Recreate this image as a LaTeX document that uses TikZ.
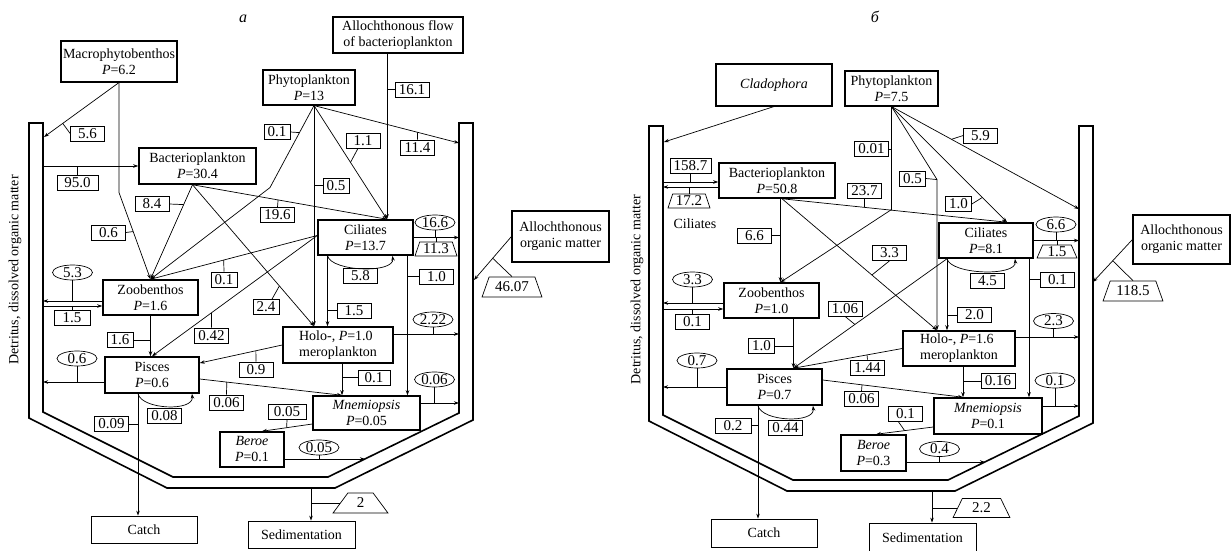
\documentclass[tikz,border=0pt]{standalone}
\usepackage{fontspec}
\setmainfont{Liberation Serif}
\usetikzlibrary{arrows.meta, shapes.geometric}
\newcommand{\taxonfont}{\fontsize{14}{16}\selectfont}
\newcommand{\valuefont}{\fontsize{15}{16}\selectfont}

\begin{document}
\begin{tikzpicture}[x=1pt, y=-1pt,
    every node/.style={font=\taxonfont},
    taxon/.style={draw, line width=1.5pt, align=center, inner sep=1pt},
    source/.style={draw, line width=1.1pt, align=center, inner sep=1pt},
    sink/.style={draw, line width=0.8pt, inner sep=1pt},
    value/.style={draw, line width=0.7pt, font=\valuefont, inner xsep=3pt, inner ysep=0pt, minimum width=34, minimum height=15},
    narrow/.style={minimum width=26},
    oval/.style={draw, line width=0.7pt, ellipse, font=\valuefont, inner sep=0pt, minimum width=40, minimum height=15},
    trap/.style={draw, line width=0.7pt, trapezium, trapezium stretches=true, trapezium left angle=#1, trapezium right angle=#1, font=\valuefont, inner sep=0pt},
    trap/.default=70,
    flow/.style={line width=0.7pt, -{Stealth[length=5pt, width=3.5pt]}},
    tick/.style={line width=0.7pt},
    wall/.style={line width=1.6pt, line join=miter}]
\useasboundingbox (0,0) rectangle (1232,551);

% ================= panel a =================
\node (tita) at (243,19) {\fontsize{16}{16}\selectfont\itshape а};
% vessel
\draw[wall] (29,123) -- (29,418) -- (167,488) -- (335,488) -- (473,420) -- (473,123)
  -- (459,123) -- (459,413) -- (328,477) -- (173,477) -- (43,412) -- (43,123) -- cycle;
\node[rotate=90] (deta) at (15,270) {Detritus, dissolved organic matter};
\coordinate (wla) at (43,0);
\coordinate (wra) at (459,0);
\coordinate (wmac) at (44,137);
\coordinate (wphy) at (459,143);
\coordinate (wber) at (365,459);
\coordinate (waom) at (474,280);
\coordinate (wsed) at (311,488);

% compartments
\node[source, minimum width=116, minimum height=41] (macro) at (119,61.5) {Macrophytobenthos\\\textit{P}=6.2};
\node[source, minimum width=92, minimum height=35] (phyto) at (309,87.5) {Phytoplankton\\\textit{P}=13};
\node[source, minimum width=130, minimum height=36] (allo) at (398,35) {Allochthonous flow\\of bacterioplankton};
\node[taxon, minimum width=117, minimum height=36] (bact) at (197.5,166) {Bacterioplankton\\\textit{P}=30.4};
\node[taxon, minimum width=95, minimum height=35] (cil) at (365.5,237.5) {Ciliates\\\textit{P}=13.7};
\node[taxon, minimum width=95, minimum height=35] (zoob) at (150.5,297.5) {Zoobenthos\\\textit{P}=1.6};
\node[taxon, minimum width=110, minimum height=36, align=left] (holo) at (338,345) {Holo-, \textit{P}=1.0\\meroplankton};
\node[taxon, minimum width=94, minimum height=36] (pisc) at (152,375) {Pisces\\\textit{P}=0.6};
\node[taxon, minimum width=107, minimum height=34] (mnem) at (366.5,413) {\textit{Mnemiopsis}\\\textit{P}=0.05};
\node[taxon, minimum width=64, minimum height=35] (beroe) at (252,449.5) {\textit{Beroe}\\\textit{P}=0.1};
\node[source, minimum width=97, minimum height=51] (aom) at (560.5,236.5) {Allochthonous\\organic matter};
\node[sink, minimum width=106, minimum height=27] (catch) at (144,529.5) {Catch};
\node[sink, minimum width=107, minimum height=27] (sedi) at (301.5,534.5) {Sedimentation};

% attach points
\coordinate (pf) at ([xshift=5pt]phyto.south);
\coordinate (bo) at ([xshift=-5pt]bact.south);
\coordinate (af) at ([xshift=-11pt]allo.south);
\coordinate (cn) at (af |- cil.north);
\coordinate (hn) at (pf |- holo.north);
\coordinate (cw) at ([yshift=2pt]cil.west);
\coordinate (cb1) at ([xshift=-38pt]cil.south);
\coordinate (cb2) at ([xshift=42pt]cil.south);
\coordinate (hb) at ([xshift=4pt]holo.south);
\coordinate (mn) at (hb |- mnem.north);
\coordinate (pb) at ([xshift=-14pt]pisc.south);
\coordinate (zw1) at ([yshift=-3.5pt]zoob.west);
\coordinate (zw2) at ([yshift=-8.5pt]zoob.west);
\coordinate (pw) at ([yshift=-7pt]pisc.west);
\coordinate (hr) at ([yshift=11pt]holo.east);
\coordinate (mr) at ([yshift=10pt]mnem.east);
\coordinate (ml) at ([yshift=-11pt]mnem.west);
\coordinate (br) at ([yshift=-9.5pt]beroe.east);

% flows
\draw[flow] (macro.south) -- (wmac) coordinate[pos=0.75] (m1);
\draw[flow] (bact.west -| wla) -- (bact.west);
\draw[flow] (macro.south) -- ++(0,110) -- (zoob.north) coordinate[pos=0.45] (m2);
\draw[flow] (bo) -- (zoob.north) coordinate[pos=0.21] (b1);
\draw[flow] (bo) -- (cn) coordinate[pos=0.44] (b2);
\draw[flow] (bo) -- (hn) coordinate[pos=0.715] (b3);
\draw[flow] (pf) -- ++(-44,82) coordinate[pos=0.33] (p1) -- (zoob.north);
\draw[flow] (pf) -- (hn);
\draw[flow] (pf) -- (cn) coordinate[pos=0.5] (p2);
\draw[flow] (pf) -- (wphy) coordinate[pos=0.714] (p3);
\draw[flow] (af) -- (cn);
\draw[flow] (cw) -- (zoob.north) coordinate[pos=0.561] (c1);
\draw[flow] (cw) -- (pisc.north) coordinate[pos=0.64] (c2);
\draw[flow] (cb1) -- (cb1 |- holo.north);
\draw[flow] (cb1) .. controls +(4,16) and +(2,18) .. ([xshift=27pt]cil.south);
\draw[flow] (cb2) -- (cb2 |- mnem.north);
\draw[flow] (cil.east) -- (cil.east -| wra);
\draw[flow] (zw1) -- (zw1 -| wla);
\draw[flow] (zw2 -| wla) -- (zw2);
\draw[flow] (zoob.south) -- (zoob.south |- pisc.north);
\draw[flow] (pw) -- (pw -| wla);
\draw[flow] (pb) -- (pb |- catch.north);
\draw[flow] (pb) .. controls +(4,16) and +(2,18) .. ([xshift=40pt]pisc.south);
\draw[flow] (holo.west) -- ([yshift=12pt]pisc.east) coordinate[pos=0.32] (h1);
\draw[flow] ([yshift=-4pt]pisc.east) -- (mn) coordinate[pos=0.19] (h2);
\draw[flow] (hb) -- (mn);
\draw[flow] (hr) -- (hr -| wra);
\draw[flow] (mr) -- (mr -| wra);
\draw[flow] (ml) -- ([xshift=10pt]beroe.north) coordinate[pos=0.51] (r1);
\draw[flow] (br) -- (wber);
\draw[flow] (aom.west) -- (waom) coordinate[pos=0.5] (a1);
\draw[flow] (wsed) -- (wsed |- sedi.north);

% values
\node[value] (v56) at (87.5,133.5) {5.6};
\draw[tick] (m1) -- (v56.west);
\node[value, minimum width=41] (v950) at (77.5,182.5) {95.0};
\draw[tick] (v950.north) -- (v950.north |- bact.west);
\node[value] (v06a) at (108.5,232.5) {0.6};
\draw[tick] (v06a.east) -- (m2);
\node[value] (v84) at (152,204) {8.4};
\draw[tick] (v84.east) -- (b1);
\node[value] (v196) at (277.5,215) {19.6};
\draw[tick] (v196.north) -- (b2);
\node[value, narrow] (v24) at (266,307) {2.4};
\draw[tick] ([xshift=6pt]v24.north) -- (b3);
\node[value, narrow] (v01p) at (277,132) {0.1};
\draw[tick] (v01p.east) -- (p1);
\node[value, narrow] (v05) at (336,185.5) {0.5};
\draw[tick] (v05.west) -- (v05.west -| pf);
\node[value] (v11) at (363,140.5) {1.1};
\draw[tick] (p2) -- ([xshift=-5pt]v11.south);
\node[value] (v114) at (417.5,147.5) {11.4};
\draw[tick] (v114.north) -- (p3);
\node[value] (v161) at (412,89.5) {16.1};
\draw[tick] (v161.west) -- (v161.west -| af);
\node[value, narrow] (v01c) at (224,279.5) {0.1};
\draw[tick] (v01c.north) -- (c1);
\node[value] (v042) at (211.5,335.5) {0.42};
\draw[tick] (v042.north) -- (c2);
\node[value] (v15c) at (354,310.5) {1.5};
\draw[tick] (v15c.west) -- (v15c.west -| cb1);
\node[value] (v58) at (360.5,275.5) {5.8};
\node[value] (v10c) at (436.5,276.5) {1.0};
\draw[tick] (v10c.west) -- (v10c.west -| cb2);
\node[oval] (o166) at (435,222.5) {16.6};
\draw[tick] (o166.south) -- (o166.south |- cil.east);
\node[trap, minimum width=42, minimum height=14] (t113) at (436,249) {11.3};
\draw[tick] (t113.north) -- (t113.north |- cil.east);
\node[oval] (o53) at (72.5,272.5) {5.3};
\draw[tick] (o53.south) -- (o53.south |- zw1);
\node[value, minimum width=36] (v15z) at (72,318) {1.5};
\draw[tick] (v15z.north) -- (v15z.north |- zw2);
\node[value, narrow] (v16) at (120,340) {1.6};
\draw[tick] (v16.east) -- (v16.east -| zoob.south);
\node[oval] (o06) at (77,358.5) {0.6};
\draw[tick] (o06.south) -- (o06.south |- pw);
\node[value] (v009) at (111.5,424) {0.09};
\draw[tick] (v009.east) -- (v009.east -| pb);
\node[value] (v008) at (164.5,415.5) {0.08};
\node[value] (v09) at (256,369.5) {0.9};
\draw[tick] (v09.north) -- (h1);
\node[value] (v006) at (226.5,402.5) {0.06};
\draw[tick] (v006.north) -- (h2);
\node[value, minimum width=32] (v01h) at (374,377.5) {0.1};
\draw[tick] (v01h.west) -- (v01h.west -| hb);
\node[oval] (o222) at (433,319.5) {2.22};
\draw[tick] (o222.south) -- (o222.south |- hr);
\node[oval] (o006) at (434.5,379.5) {0.06};
\draw[tick] (o006.south) -- (o006.south |- mr);
\node[value, minimum width=38] (v005) at (287,412) {0.05};
\draw[tick] (v005.south) -- (r1);
\node[oval] (o005) at (319,447.5) {0.05};
\draw[tick] (o005.south) -- (o005.south |- br);
\node[trap=63, minimum width=60, minimum height=20] (t4607) at (512,287) {46.07};
\draw[tick] (a1) -- (t4607.north);
\node[trap=66, minimum width=55, minimum height=20] (t2) at (360.5,503) {2};
\draw[tick] (t2.west) -- (t2.west -| wsed);

% ================= panel b =================
\node (titb) at (875,17) {\fontsize{16}{16}\selectfont\itshape б};
% vessel
\draw[wall] (649,126) -- (649,421) -- (787,491) -- (955,491) -- (1093,423) -- (1093,126)
  -- (1079,126) -- (1079,416) -- (948,480) -- (793,480) -- (663,415) -- (663,126) -- cycle;
\node[rotate=90] (detb) at (637,289.5) {Detritus, dissolved organic matter};
\coordinate (wlb) at (663,0);
\coordinate (wrb) at (1079,0);
\coordinate (wclad) at (664,142);
\coordinate (wphyb) at (1079,209);
\coordinate (wberb) at (985,462);
\coordinate (waomb) at (1093,282);
\coordinate (wsedb) at (932,491);

% compartments
\node[source, minimum width=116, minimum height=42] (clad) at (774,85) {\textit{Cladophora}};
\node[source, minimum width=93, minimum height=35] (phytob) at (891.5,88.5) {Phytoplankton\\\textit{P}=7.5};
\node[taxon, minimum width=116, minimum height=35] (bactb) at (777,180.5) {Bacterioplankton\\\textit{P}=50.8};
\node[taxon, minimum width=94, minimum height=35] (cilb) at (986,240.5) {Ciliates\\\textit{P}=8.1};
\node[taxon, minimum width=95, minimum height=35] (zoobb) at (771.5,300.5) {Zoobenthos\\\textit{P}=1.0};
\node[taxon, minimum width=112, minimum height=35, align=left] (holob) at (959,348.5) {Holo-, \textit{P}=1.6\\meroplankton};
\node[taxon, minimum width=95, minimum height=36] (piscb) at (774.5,387) {Pisces\\\textit{P}=0.7};
\node[taxon, minimum width=108, minimum height=36] (mnemb) at (988,416) {\textit{Mnemiopsis}\\\textit{P}=0.1};
\node[taxon, minimum width=65, minimum height=36] (berb) at (873.5,453) {\textit{Beroe}\\\textit{P}=0.3};
\node[source, minimum width=97, minimum height=49] (aomb) at (1181.5,239.5) {Allochthonous\\organic matter};
\node[sink, minimum width=106, minimum height=28] (catchb) at (764,533) {Catch};
\node[sink, minimum width=107, minimum height=29] (sedib) at (922.5,537.5) {Sedimentation};
\node (cilt) at (695,224) {Ciliates};

% attach points
\coordinate (bob) at ([xshift=5pt]bactb.south);
\coordinate (bw1) at ([yshift=-1.5pt]bactb.west);
\coordinate (bw2) at ([yshift=-6.5pt]bactb.west);
\coordinate (zn) at ([xshift=9pt]zoobb.north);
\coordinate (pk) at ([yshift=-103pt]phytob.south);
\coordinate (pk2) at ([shift={(45.5,73)}]phytob.south);
\coordinate (hnb) at (pk2 |- holob.north);
\coordinate (cnb) at ([xshift=21pt]cilb.north);
\coordinate (cbl) at ([xshift=-39pt]cilb.south);
\coordinate (cbr) at ([xshift=43pt]cilb.south);
\coordinate (pnb) at ([xshift=19pt]piscb.north);
\coordinate (pbb) at ([xshift=-16.5pt]piscb.south);
\coordinate (prb) at ([yshift=7pt]piscb.east);
\coordinate (hbb) at ([xshift=4pt]holob.south);
\coordinate (mnb) at (hbb |- mnemb.north);
\coordinate (hrb) at ([yshift=11.5pt]holob.east);
\coordinate (mrb) at ([yshift=10pt]mnemb.east);
\coordinate (mlb) at ([yshift=-11pt]mnemb.west);
\coordinate (brb) at ([yshift=-9pt]berb.east);
\coordinate (zw1b) at ([yshift=-2.5pt]zoobb.west);
\coordinate (zw2b) at ([yshift=-8.5pt]zoobb.west);

% flows
\draw[flow] (clad.south) -- (wclad);
\draw[flow] (bw1 -| wlb) -- (bw1);
\draw[flow] (bw2) -- (bw2 -| wlb);
\draw[flow] (phytob.south) -- (pk) -- (zn);
\draw[flow] (phytob.south) -- (pk2) -- (hnb);
\draw[flow] (phytob.south) -- (cnb) coordinate[pos=0.786] (q1);
\draw[flow] (phytob.south) -- (wphyb) coordinate[pos=0.32] (q2);
\draw[flow] (zn |- bactb.south) -- (zn);
\draw[flow] (bob) -- (cnb) coordinate[pos=0.367] (q3);
\draw[flow] (bob) -- (hnb) coordinate[pos=0.58] (q4);
\draw[flow] (cbl) -- (pnb) coordinate[pos=0.6] (q5);
\draw[flow] (cbl) -- (cbl |- holob.north);
\draw[flow] (cbl) .. controls +(4,16) and +(2,18) .. ([xshift=29pt]cilb.south);
\draw[flow] (cbr) -- (cbr |- mnemb.north);
\draw[flow] (cilb.east) -- (cilb.east -| wrb);
\draw[flow] (zw1b) -- (zw1b -| wlb);
\draw[flow] (zw2b -| wlb) -- (zw2b);
\draw[flow] (pnb |- zoobb.south) -- (pnb);
\draw[flow] (piscb.west) -- (piscb.west -| wlb);
\draw[flow] (pbb) -- (pbb |- catchb.north);
\draw[flow] (pbb) .. controls +(4,16) and +(2,18) .. ([xshift=38.5pt]piscb.south);
\draw[flow] (holob.west) -- (pnb) coordinate[pos=0.324] (q6);
\draw[flow] (prb) -- (mnb) coordinate[pos=0.28] (q7);
\draw[flow] (hbb) -- (mnb);
\draw[flow] (hrb) -- (hrb -| wrb);
\draw[flow] (mrb) -- (mrb -| wrb);
\draw[flow] (mlb) -- ([xshift=2.5pt]berb.north) coordinate[pos=0.5] (q8);
\draw[flow] (brb) -- (wberb);
\draw[flow] (aomb.west) -- (waomb) coordinate[pos=0.5] (q9);
\draw[flow] (wsedb) -- (wsedb |- sedib.north);

% values
\node[value, minimum width=41] (v1587) at (690.5,165.5) {158.7};
\draw[tick] (v1587.south) -- (v1587.south |- bw1);
\node[trap, minimum width=42, minimum height=14] (t172) at (689,201) {17.2};
\draw[tick] (t172.north) -- (t172.north |- bw2);
\node[value] (v001) at (871.5,149) {0.01};
\draw[tick] (v001.east) -- (v001.east -| phytob.south);
\node[value, narrow] (v05b) at (912.5,178.5) {0.5};
\draw[tick] (v05b.east) -- (pk2);
\node[value, narrow] (v10b) at (958.5,204) {1.0};
\draw[tick] (v10b.east) -- (q1);
\node[value] (v59) at (980.5,135.5) {5.9};
\draw[tick] (q2) -- (v59.west);
\node[value] (v66) at (754.5,235.5) {6.6};
\draw[tick] (v66.east) -- (v66.east -| zn);
\node[value] (v237) at (864.5,190.5) {23.7};
\draw[tick] (v237.south) -- (q3);
\node[value] (v33b) at (889.5,253) {3.3};
\draw[tick] (q4) -- (v33b.south);
\node[value] (v106) at (845,308.5) {1.06};
\draw[tick] (v106.south) -- (q5);
\node[value] (v20) at (974.5,315) {2.0};
\draw[tick] (v20.west) -- (v20.west -| cbl);
\node[value] (v45) at (987.5,280.5) {4.5};
\node[value] (v01cb) at (1057.5,279.5) {0.1};
\draw[tick] (v01cb.west) -- (v01cb.west -| cbr);
\node[oval] (o66) at (1056,224.5) {6.6};
\draw[tick] (o66.south) -- (o66.south |- cilb.east);
\node[trap, minimum width=40, minimum height=13] (t15) at (1057,251.5) {1.5};
\draw[tick] (t15.north) -- (t15.north |- cilb.east);
\node[oval] (o33) at (692.5,279.5) {3.3};
\draw[tick] (o33.south) -- (o33.south |- zw1b);
\node[value] (v01z) at (692.5,322) {0.1};
\draw[tick] (v01z.north) -- (v01z.north |- zw2b);
\node[value, narrow] (v10z) at (761.5,346) {1.0};
\draw[tick] (v10z.east) -- (v10z.east -| pnb);
\node[oval] (o07) at (697,360.5) {0.7};
\draw[tick] (o07.south) -- (o07.south |- piscb.west);
\node[value, minimum width=36] (v02) at (733,425.5) {0.2};
\draw[tick] (v02.east) -- (v02.east -| pbb);
\node[value] (v044) at (785.5,427.5) {0.44};
\node[value] (v144) at (867.5,367.5) {1.44};
\draw[tick] (v144.north) -- (q6);
\node[value] (v006b) at (861.5,399) {0.06};
\draw[tick] (v006b.north) -- (q7);
\node[value] (v016) at (998,381) {0.16};
\draw[tick] (v016.west) -- (v016.west -| hbb);
\node[oval] (o23) at (1053.5,321) {2.3};
\draw[tick] (o23.south) -- (o23.south |- hrb);
\node[oval] (o01) at (1055,380.5) {0.1};
\draw[tick] (o01.south) -- (o01.south |- mrb);
\node[value] (v01m) at (905.5,414) {0.1};
\draw[tick] (q8) -- ([xshift=-7pt]v01m.south);
\node[oval] (o04) at (939.5,449) {0.4};
\draw[tick] (o04.south) -- (o04.south |- brb);
\node[trap=63, minimum width=60, minimum height=20] (t1185) at (1133,291) {118.5};
\draw[tick] (q9) -- (t1185.north);
\node[trap=66, minimum width=57, minimum height=19] (t22) at (981.5,508) {2.2};
\draw[tick] (t22.west) -- (t22.west -| wsedb);
\end{tikzpicture}
\end{document}
